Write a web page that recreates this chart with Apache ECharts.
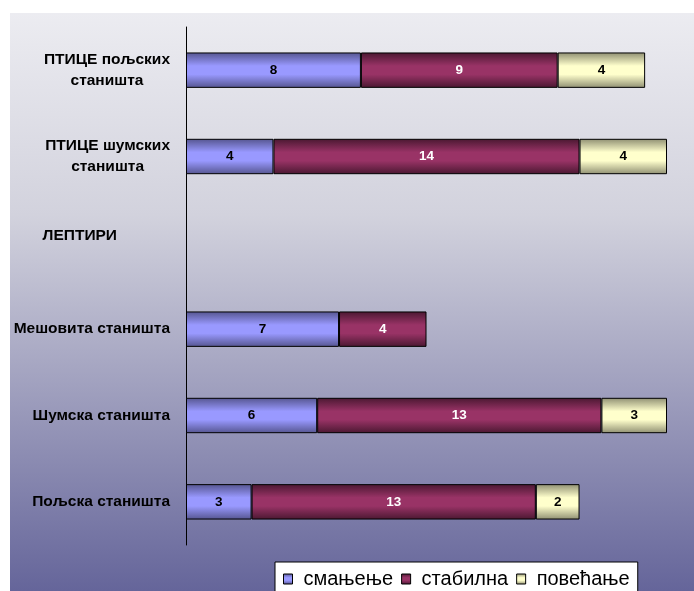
<!DOCTYPE html>
<html>
<head>
<meta charset="utf-8">
<script src="https://cdn.jsdelivr.net/npm/echarts@6/dist/echarts.min.js"></script>
<style>
  html, body { margin: 0; padding: 0; background: #fff; }
  #main { width: 694px; height: 591px; }
</style>
</head>
<body>
<div id="main"></div>
<script>
'use strict';

// categories, top to bottom as drawn
const categories = ['ПТИЦЕ пољских станишта', 'ПТИЦЕ шумских станишта', 'ЛЕПТИРИ',
    'Мешовита станишта', 'Шумска станишта', 'Пољска станишта'];
const seriesNames = ['смањење', 'стабилна', 'повећање'];
const decreasing = [8, 4, null, 7, 6, 3];
const stable = [9, 14, null, 4, 13, 13];
const increasing = [4, 4, null, null, 3, 2];

const baseColors = ['#9999ff', '#993366', '#ffffcc'];
const edgeColors = ['#55558f', '#4a1831', '#8f8f72'];
const labelColors = ['#000', '#fff', '#000'];

function barFill(i) {
    return {
        type: 'linear', x: 0, y: 0, x2: 0, y2: 1,
        colorStops: [
            { offset: 0, color: edgeColors[i] },
            { offset: 0.38, color: baseColors[i] },
            { offset: 0.62, color: baseColors[i] },
            { offset: 1, color: edgeColors[i] }
        ]
    };
}

function makeSeries(name, values, i) {
    return {
        name: name,
        type: 'bar',
        stack: 'total',
        barWidth: '41%',
        data: values,
        itemStyle: { color: barFill(i), borderColor: '#000', borderWidth: 1 },
        label: {
            show: true,
            position: 'inside',
            color: labelColors[i],
            fontFamily: 'Liberation Sans, Arial',
            fontWeight: 'bold',
            fontSize: 13.5
        },
        emphasis: { disabled: true }
    };
}

let mChart = echarts.init(document.getElementById('main'));

const labelFont = { fontFamily: 'Liberation Sans, Arial', fontWeight: 'bold', fontSize: 15.5, color: '#000' };

mChart.setOption({
    backgroundColor: '#fff',
    animation: false,
    graphic: [{
        type: 'rect',
        left: 10, top: 13, z: -10,
        shape: { width: 684, height: 578 },
        style: {
            fill: {
                type: 'linear', x: 0, y: 0, x2: 0, y2: 1,
                colorStops: [
                    { offset: 0, color: '#ececf1' },
                    { offset: 0.35, color: '#d2d2dd' },
                    { offset: 1, color: '#65659a' }
                ]
            }
        }
    }],
    grid: { left: 186, right: 27, top: 27, bottom: 46, containLabel: false },
    legend: {
        left: 275, top: 562,
        data: seriesNames,
        backgroundColor: '#fff',
        borderColor: '#000',
        borderWidth: 1,
        padding: [7, 8, 10, 8],
        itemGap: 8,
        itemWidth: 9,
        itemHeight: 10,
        icon: 'rect',
        itemStyle: { borderColor: '#000', borderWidth: 1 },
        textStyle: { fontFamily: 'Liberation Sans, Arial', fontSize: 20, color: '#000', padding: [0, 0, 0, 6] }
    },
    xAxis: {
        type: 'value',
        min: 0, max: 22,
        show: false
    },
    yAxis: {
        type: 'category',
        inverse: true,
        data: categories,
        axisLine: { show: true, lineStyle: { color: '#000', width: 1 } },
        axisTick: { show: false },
        axisLabel: {
            margin: 16,
            formatter: function (v) {
                if (v.indexOf('ПТИЦЕ') === 0) {
                    let parts = v.split(' ');
                    return '{c|' + parts[0] + ' ' + parts[1] + '}\n{c|' + parts[2] + '}';
                }
                if (v === 'ЛЕПТИРИ') return '{p|' + v + '}';
                return '{r|' + v + '}';
            },
            rich: {
                c: Object.assign({ align: 'center', lineHeight: 21 }, labelFont),
                p: Object.assign({ padding: [0, 53, 14, 0] }, labelFont),
                r: labelFont
            }
        }
    },
    series: [
        makeSeries(seriesNames[0], decreasing, 0),
        makeSeries(seriesNames[1], stable, 1),
        makeSeries(seriesNames[2], increasing, 2)
    ]
});

window.onresize = function () {
    mChart.resize();
};
</script>
</body>
</html>
